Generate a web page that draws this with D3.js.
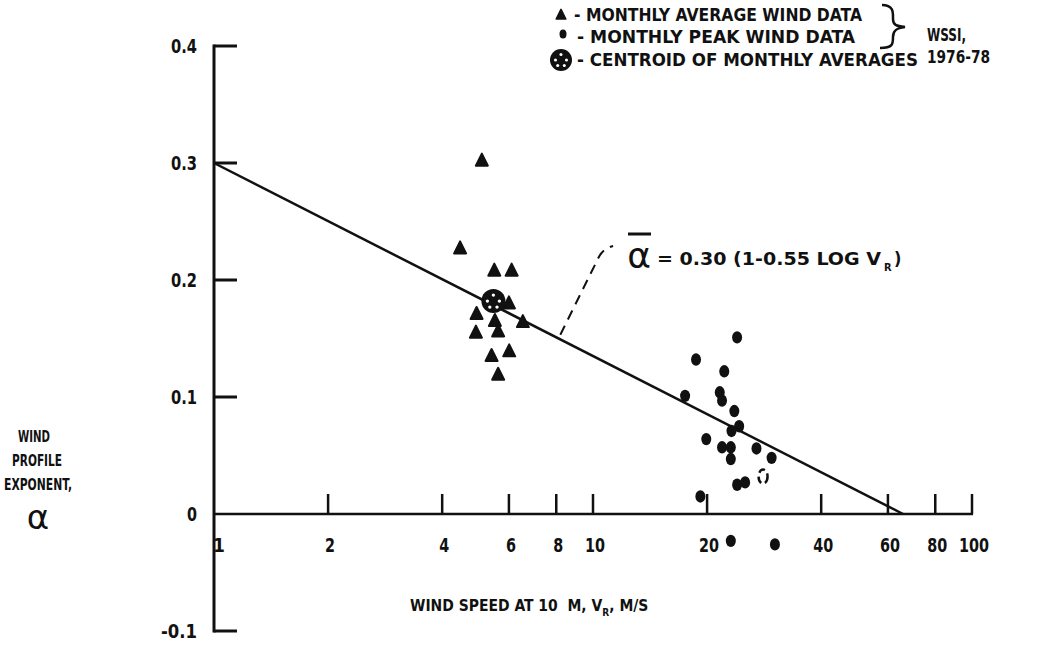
<!DOCTYPE html>
<html><head><meta charset="utf-8">
<script src="https://cdn.jsdelivr.net/npm/d3@7"></script>
<style>
body{margin:0;background:#fff}
svg{display:block}
text{font-family:"DejaVu Sans Condensed","DejaVu Sans",sans-serif;font-weight:bold;fill:#111}
</style>
</head><body>
<svg id="chart" width="1042" height="650"></svg>
<script>
// ---- data ----
const avgSpeed = [5.09, 4.46, 5.49, 6.10, 4.93, 6.00, 6.53, 4.91, 5.62, 5.40, 6.01, 5.62, 5.51];
const avgAlpha = [0.302, 0.227, 0.208, 0.208, 0.171, 0.180, 0.164, 0.155, 0.156, 0.135, 0.139, 0.119, 0.165];
const peakSpeed = [24.0, 18.7, 22.2, 17.5, 21.6, 21.9, 23.6, 24.3, 23.2, 19.9, 21.9, 23.1, 23.1, 27.0, 29.6, 24.0, 25.2, 19.2, 23.1, 30.2];
const peakAlpha = [0.151, 0.132, 0.122, 0.101, 0.104, 0.097, 0.088, 0.075, 0.071, 0.064, 0.057, 0.057, 0.047, 0.056, 0.048, 0.025, 0.027, 0.015, -0.023, -0.026];
const openSpeed = [28.1];
const openAlpha = [0.032];
const centroidSpeed = [5.46];
const centroidAlpha = [0.182];
const fitCoef = [0.30, 0.55];           // alpha = 0.30 (1 - 0.55 log V)
const xTickValues = [2, 4, 6, 8, 10, 20, 40, 60, 80, 100];
const xTickLabels = ["2", "4", "6", "8", "10", "20", "40", "60", "80", "100"];
const yTickValues = [0.4, 0.3, 0.2, 0.1, 0, -0.1];
const yTickLabels = ["0.4", "0.3", "0.2", "0.1", "0", "-0.1"];
const legendLabels = ["- MONTHLY AVERAGE WIND DATA", "- MONTHLY PEAK WIND DATA", "- CENTROID OF MONTHLY AVERAGES"];
const sourceLabels = ["WSSI,", "1976-78"];
const yTitle = ["WIND", "PROFILE", "EXPONENT,"];

// ---- scales ----
const svg = d3.select("#chart");
const x = d3.scaleLog().domain([1, 100]).range([214, 972]);
const y = d3.scaleLinear().domain([-0.1, 0.4]).range([631, 46]);
const ink = "#111";
const fit = v => fitCoef[0] * (1 - fitCoef[1] * Math.log10(v));

function fitText(sel, w) {
  sel.attr("textLength", w).attr("lengthAdjust", "spacingAndGlyphs");
  return sel;
}

const g = svg.append("g");
// ---- axes ----
g.append("line").attr("x1", x(1)).attr("x2", x(1)).attr("y1", y(0.4) - 1.5).attr("y2", y(-0.1) + 1.5)
  .attr("stroke", ink).attr("stroke-width", 3);
g.selectAll(".yt").data(yTickValues.filter(v => v !== 0)).enter().append("line")
  .attr("x1", x(1)).attr("x2", x(1) + 23).attr("y1", d => y(d)).attr("y2", d => y(d))
  .attr("stroke", ink).attr("stroke-width", 3);
g.selectAll(".yl").data(yTickValues).enter().append("text")
  .attr("x", x(1) - 17).attr("y", d => y(d)).attr("dy", "0.36em")
  .attr("text-anchor", "end").style("font-size", "19px")
  .each(function (d, i) { fitText(d3.select(this), yTickLabels[i].length * 10 - (yTickLabels[i].includes(".") ? 4 : 0)); })
  .text((d, i) => yTickLabels[i]);
g.append("line").attr("x1", x(1)).attr("x2", x(100) + 1).attr("y1", y(0)).attr("y2", y(0))
  .attr("stroke", ink).attr("stroke-width", 2.5);
g.selectAll(".xt").data(xTickValues).enter().append("line")
  .attr("x1", d => x(d)).attr("x2", d => x(d)).attr("y1", y(0)).attr("y2", y(0) - 20)
  .attr("stroke", ink).attr("stroke-width", 2.5);
g.selectAll(".xl").data(xTickValues).enter().append("text")
  .attr("x", d => x(d) + 2).attr("y", y(0) + 31).attr("dy", "0.36em")
  .attr("text-anchor", "middle").style("font-size", "19px")
  .each(function (d, i) { fitText(d3.select(this), xTickLabels[i].length * 10); })
  .text((d, i) => xTickLabels[i]);
g.append("text").attr("x", x(1) + 5).attr("y", y(0) + 31).attr("dy", "0.36em")
  .attr("text-anchor", "middle").style("font-size", "19px").text("1");

// x title (single text element with subscript)
const xt = g.append("text").attr("x", 410).attr("y", 611).style("font-size", "15.5px");
xt.append("tspan").text("WIND SPEED AT 10\u00a0\u00a0M, V");
xt.append("tspan").attr("dy", 5).style("font-size", "10px").text("R");
xt.append("tspan").attr("dy", -5).text(", M/S");

// y title
const yTitleX = [18, 12, 4], yTitleW = [32, 50, 68];
g.selectAll(".ytt").data(yTitle).enter().append("text")
  .attr("x", (d, i) => yTitleX[i]).attr("y", (d, i) => 442 + i * 24)
  .style("font-size", "15px")
  .each(function (d, i) { fitText(d3.select(this), yTitleW[i]); })
  .text(d => d);
g.append("text").attr("x", 38).attr("y", 529).attr("text-anchor", "middle")
  .style("font-family", "'DejaVu Sans',sans-serif").style("font-weight", "normal")
  .style("font-size", "34px").text("α");

// ---- regression line ----
const vZero = Math.pow(10, 1 / fitCoef[1]);
g.append("path").datum([1, vZero])
  .attr("d", d3.line().x(v => x(v)).y(v => y(fit(v))))
  .attr("stroke", ink).attr("stroke-width", 2.5).attr("fill", "none");

// ---- annotation ----
const lead = [[8.2, fit(8.2) + 0.004], [10.3, 0.218], [10.6, 0.227], [11.3, 0.229]];
g.append("path")
  .attr("d", `M${x(lead[0][0])},${y(lead[0][1])} L${x(lead[1][0])},${y(lead[1][1])} Q${x(lead[2][0])},${y(lead[2][1])} ${x(lead[3][0])},${y(lead[3][1])}`)
  .attr("stroke", ink).attr("stroke-width", 2).attr("fill", "none").attr("stroke-dasharray", "10,7");
g.append("text").attr("x", 639).attr("y", 268).attr("text-anchor", "middle")
  .style("font-family", "'DejaVu Sans',sans-serif").style("font-weight", "normal")
  .style("font-size", "36px").text("α");
g.append("line").attr("x1", 628).attr("x2", 651).attr("y1", 234).attr("y2", 234)
  .attr("stroke", ink).attr("stroke-width", 3);
fitText(g.append("text").attr("x", 657).attr("y", 265).style("font-size", "18px"), 224).text("= 0.30 (1-0.55 LOG V");
g.append("text").attr("x", 884).attr("y", 271).style("font-size", "11px").text("R");
g.append("text").attr("x", 894).attr("y", 265).style("font-size", "18px").text(")");

// ---- marks ----
const tri = "M0,-7 L6,5 L-6,5 Z";
g.selectAll(".tri").data(avgSpeed).enter().append("path")
  .attr("d", tri).attr("transform", (d, i) => `translate(${x(d)},${y(avgAlpha[i])})`)
  .attr("fill", ink).attr("stroke", ink).attr("stroke-width", 2).attr("stroke-linejoin", "round");
g.selectAll(".dot").data(peakSpeed).enter().append("ellipse")
  .attr("cx", d => x(d)).attr("cy", (d, i) => y(peakAlpha[i])).attr("rx", 5).attr("ry", 6.2)
  .attr("fill", ink);
g.selectAll(".open").data(openSpeed).enter().append("ellipse")
  .attr("cx", d => x(d)).attr("cy", (d, i) => y(openAlpha[i])).attr("rx", 4.5).attr("ry", 7)
  .attr("fill", "none").attr("stroke", ink).attr("stroke-width", 2.5).attr("stroke-dasharray", "7,4");
function centroidMark(sel, r) {
  sel.append("circle").attr("r", r).attr("fill", ink);
  const h = r * 0.5;
  [[0, -h], [-h, 0], [h, 0], [-h * 0.6, h], [h * 0.6, h]].forEach(p =>
    sel.append("circle").attr("cx", p[0]).attr("cy", p[1]).attr("r", r * 0.14).attr("fill", "#fff"));
}
g.selectAll(".cen").data(centroidSpeed).enter().append("g")
  .attr("transform", (d, i) => `translate(${x(d)},${y(centroidAlpha[i])})`)
  .each(function () { centroidMark(d3.select(this), 12); });

// ---- legend ----
const lg = svg.append("g");
const rowY = [15, 37, 60];
lg.append("path").attr("d", tri).attr("transform", `translate(561,${rowY[0]}) scale(0.8)`)
  .attr("fill", ink).attr("stroke", ink).attr("stroke-width", 2).attr("stroke-linejoin", "round");
lg.append("ellipse").attr("cx", 563).attr("cy", rowY[1] - 3).attr("rx", 3.5).attr("ry", 4.5).attr("fill", ink);
const lc = lg.append("g").attr("transform", `translate(561,${rowY[2]})`);
centroidMark(lc, 11);
const legX = [574, 577, 577], legW = [288, 278, 341];
lg.selectAll(".lt").data(legendLabels).enter().append("text")
  .attr("x", (d, i) => legX[i]).attr("y", (d, i) => rowY[i]).attr("dy", "0.36em")
  .style("font-size", "18px")
  .each(function (d, i) { fitText(d3.select(this), legW[i]); })
  .text(d => d);
lg.append("path")
  .attr("d", "M882,5 C894,5 893,13 893,19 C893,25 896,26 905,27 C896,28 893,31 893,37 C893,44 893,48 880,48")
  .attr("stroke", ink).attr("stroke-width", 2.5).attr("fill", "none");
const srcW = [39, 63];
lg.selectAll(".st").data(sourceLabels).enter().append("text")
  .attr("x", 927).attr("y", (d, i) => 35 + i * 22).attr("dy", "0.36em")
  .style("font-size", "17px")
  .each(function (d, i) { fitText(d3.select(this), srcW[i]); })
  .text(d => d);
</script>
</body></html>
